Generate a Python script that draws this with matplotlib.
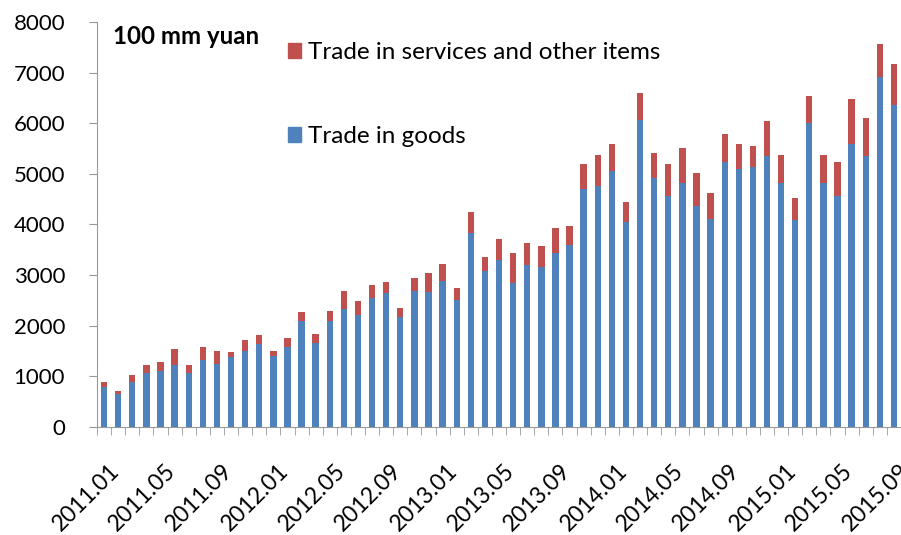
import numpy as np
import matplotlib.pyplot as plt
from matplotlib.patches import Patch
from matplotlib.transforms import ScaledTranslation

# monthly 2011.01 - 2015.09, 100 mm yuan
goods = [796, 646, 895, 1073, 1100, 1225, 1073, 1331, 1252, 1377, 1502, 1634,
         1403, 1581, 2088, 1654, 2088, 2332, 2207, 2543, 2642, 2168, 2694, 2668,
         2892, 2516, 3827, 3077, 3300, 2840, 3202, 3156, 3432, 3603, 4697, 4769,
         5053, 4058, 6067, 4927, 4572, 4822, 4370, 4111, 5231, 5099, 5132, 5356,
         4822, 4091, 6008, 4822, 4572, 5580, 5356, 6923, 6364]
total = [895, 717, 1021, 1225, 1278, 1535, 1225, 1581, 1508, 1482, 1713, 1812,
         1508, 1759, 2266, 1835, 2286, 2694, 2490, 2800, 2872, 2345, 2951, 3050,
         3228, 2741, 4243, 3353, 3709, 3432, 3633, 3583, 3939, 3966, 5204, 5382,
         5587, 4441, 6594, 5409, 5204, 5508, 5026, 4618, 5784, 5587, 5553, 6041,
         5375, 4520, 6542, 5375, 5231, 6469, 6113, 7556, 7180]
services = [t - g for t, g in zip(total, goods)]
months = [f"{y}.{m:02d}" for y in range(2011, 2016) for m in range(1, 13)][:len(goods)]

plt.rcParams['font.family'] = ['Lato', 'DejaVu Sans']

fig = plt.figure(figsize=(9.01, 5.35), dpi=100)
ax = fig.add_axes([0.1077, 0.2019, 0.8923, 0.757])

x = np.arange(len(goods))
ax.bar(x, goods, width=0.45, color='#4F81BD')
ax.bar(x, services, width=0.45, bottom=goods, color='#C0504D')

ax.set_xlim(-0.5, len(goods) - 0.5)
ax.set_ylim(0, 8000)
ax.set_yticks(range(0, 8001, 1000))
ax.tick_params(axis='y', labelsize=16, length=6, color='#999999', pad=17)

ax.set_xticks(np.arange(-0.5, len(goods), 1), minor=True)
ax.set_xticks(x[::4])
ax.set_xticklabels(months[::4], rotation=45, ha='right', rotation_mode='anchor', fontsize=16.5)
ax.tick_params(axis='x', which='major', length=0, pad=24)
ax.tick_params(axis='x', which='minor', length=6, color='#999999')
shift = ScaledTranslation(0.045, 0, fig.dpi_scale_trans)
for lab in ax.get_xticklabels():
    lab.set_transform(lab.get_transform() + shift)

for s in ['top', 'right']:
    ax.spines[s].set_visible(False)
for s in ['left', 'bottom']:
    ax.spines[s].set_color('#999999')

ax.text(0.02, 0.965, '100 mm yuan', transform=ax.transAxes, fontsize=17.3,
        fontweight='bold', va='center')

handles = [Patch(color='#C0504D', label='Trade in services and other items'),
           Patch(color='#4F81BD', label='Trade in goods')]
ax.legend(handles=handles, loc='upper left', bbox_to_anchor=(0.21, 1.005),
          frameon=False, fontsize=17.5, handlelength=0.55, handleheight=0.55,
          handletextpad=0.3, labelspacing=2.6)

fig.savefig('out.png', dpi=100)
